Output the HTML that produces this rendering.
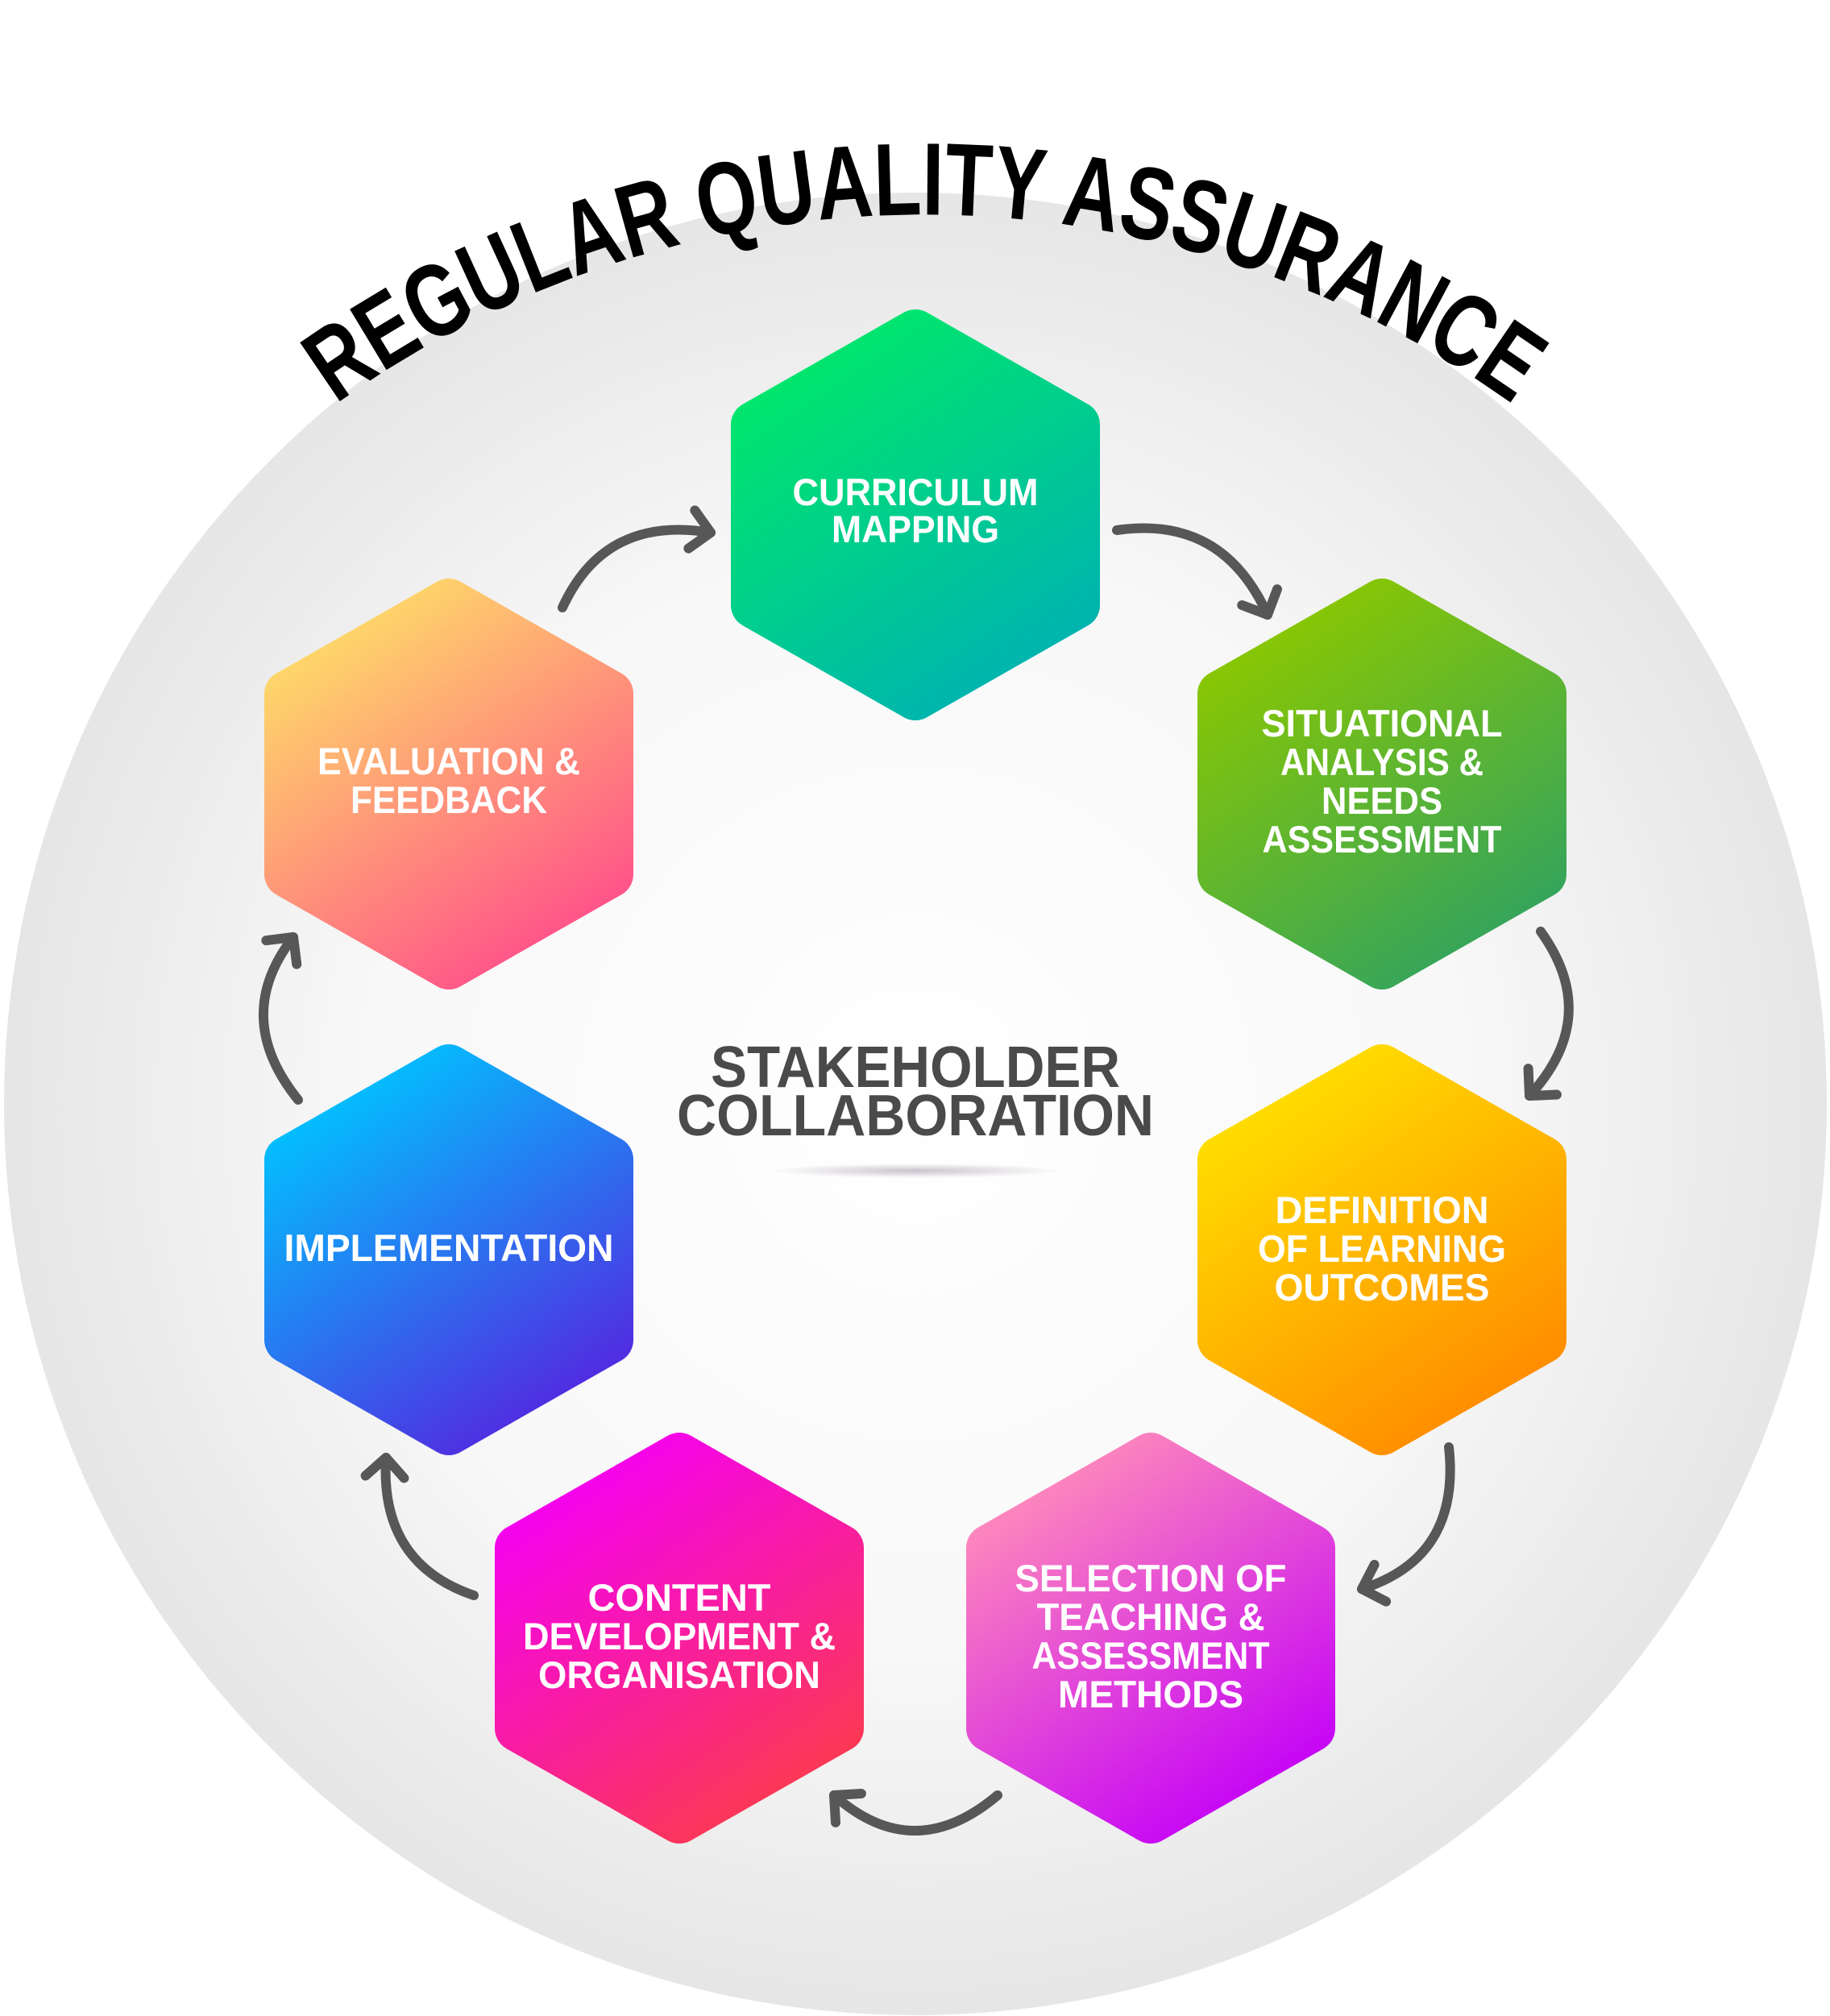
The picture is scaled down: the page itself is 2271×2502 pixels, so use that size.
<!DOCTYPE html>
<html><head><meta charset="utf-8"><style>html,body{margin:0;padding:0;background:#fff}svg{display:block}</style></head>
<body>
<svg width="2271" height="2502" viewBox="0 0 2271 2502" xmlns="http://www.w3.org/2000/svg" font-family="Liberation Sans, sans-serif" font-weight="bold">
<defs>
<radialGradient id="bg" cx="50%" cy="50%" r="50%">
<stop offset="0" stop-color="#ffffff"/><stop offset="0.6" stop-color="#f8f8f8"/><stop offset="1" stop-color="#e6e6e6"/>
</radialGradient>
<linearGradient id="g1" x1="0.2" y1="0" x2="0.8" y2="1"><stop offset="0" stop-color="#00e86a"/><stop offset="1" stop-color="#00b2b2"/></linearGradient>
<linearGradient id="g2" x1="0.2" y1="0" x2="0.8" y2="1"><stop offset="0" stop-color="#8cc800"/><stop offset="1" stop-color="#32a35e"/></linearGradient>
<linearGradient id="g3" x1="0.2" y1="0" x2="0.8" y2="1"><stop offset="0" stop-color="#ffe000"/><stop offset="1" stop-color="#ff8a00"/></linearGradient>
<linearGradient id="g4" x1="0.2" y1="0" x2="0.8" y2="1"><stop offset="0" stop-color="#ff8cba"/><stop offset="1" stop-color="#c400f8"/></linearGradient>
<linearGradient id="g5" x1="0.2" y1="0" x2="0.8" y2="1"><stop offset="0" stop-color="#f400f4"/><stop offset="1" stop-color="#fc3a4e"/></linearGradient>
<linearGradient id="g6" x1="0.2" y1="0" x2="0.8" y2="1"><stop offset="0" stop-color="#00c4ff"/><stop offset="1" stop-color="#5426e0"/></linearGradient>
<linearGradient id="g7" x1="0.2" y1="0" x2="0.8" y2="1"><stop offset="0" stop-color="#fedc68"/><stop offset="1" stop-color="#ff4f8a"/></linearGradient>
<radialGradient id="sh" cx="50%" cy="50%" r="50%"><stop offset="0" stop-color="#8a7a90" stop-opacity="0.45"/><stop offset="1" stop-color="#8a7a90" stop-opacity="0"/></radialGradient>
<marker id="ah" markerUnits="userSpaceOnUse" markerWidth="60" markerHeight="60" refX="30" refY="30" orient="auto" viewBox="0 0 60 60">
<polyline points="6,6 30,30 6,54" fill="none" stroke="#575757" stroke-width="12" stroke-linecap="round" stroke-linejoin="round"/>
</marker>
<path id="arc" d="M -103 1516 A 1250 1250 0 0 1 2397 1516"/>
<polygon id="hx" points="0,-226 200,-112 200,112 0,226 -200,112 -200,-112"/>
</defs>

<circle cx="1136" cy="1370" r="1131" fill="url(#bg)"/>

<text font-size="128" fill="#000"><textPath href="#arc" startOffset="50%" text-anchor="middle" textLength="1560" lengthAdjust="spacingAndGlyphs">REGULAR QUALITY ASSURANCE</textPath></text>

<g transform="translate(1136,639)"><use href="#hx" fill="url(#g1)" stroke="url(#g1)" stroke-width="58" stroke-linejoin="round"/></g>
<g transform="translate(1715,973)"><use href="#hx" fill="url(#g2)" stroke="url(#g2)" stroke-width="58" stroke-linejoin="round"/></g>
<g transform="translate(1715,1551)"><use href="#hx" fill="url(#g3)" stroke="url(#g3)" stroke-width="58" stroke-linejoin="round"/></g>
<g transform="translate(1428,2033)"><use href="#hx" fill="url(#g4)" stroke="url(#g4)" stroke-width="58" stroke-linejoin="round"/></g>
<g transform="translate(843,2033)"><use href="#hx" fill="url(#g5)" stroke="url(#g5)" stroke-width="58" stroke-linejoin="round"/></g>
<g transform="translate(557,1551)"><use href="#hx" fill="url(#g6)" stroke="url(#g6)" stroke-width="58" stroke-linejoin="round"/></g>
<g transform="translate(557,973)"><use href="#hx" fill="url(#g7)" stroke="url(#g7)" stroke-width="58" stroke-linejoin="round"/></g>

<g fill="#fff" font-size="47" text-anchor="middle">
<text x="1136" y="627" textLength="305" lengthAdjust="spacingAndGlyphs">CURRICULUM</text>
<text x="1136" y="673" textLength="208" lengthAdjust="spacingAndGlyphs">MAPPING</text>

<text x="1715" y="914" textLength="299" lengthAdjust="spacingAndGlyphs">SITUATIONAL</text>
<text x="1715" y="962" textLength="252" lengthAdjust="spacingAndGlyphs">ANALYSIS &amp;</text>
<text x="1715" y="1010" textLength="150" lengthAdjust="spacingAndGlyphs">NEEDS</text>
<text x="1715" y="1058" textLength="297" lengthAdjust="spacingAndGlyphs">ASSESSMENT</text>

<text x="1715" y="1518" textLength="265" lengthAdjust="spacingAndGlyphs">DEFINITION</text>
<text x="1715" y="1566" textLength="308" lengthAdjust="spacingAndGlyphs">OF LEARNING</text>
<text x="1715" y="1614" textLength="267" lengthAdjust="spacingAndGlyphs">OUTCOMES</text>

<text x="1428" y="1975" textLength="337" lengthAdjust="spacingAndGlyphs">SELECTION OF</text>
<text x="1428" y="2023" textLength="283" lengthAdjust="spacingAndGlyphs">TEACHING &amp;</text>
<text x="1428" y="2071" textLength="295" lengthAdjust="spacingAndGlyphs">ASSESSMENT</text>
<text x="1428" y="2119" textLength="230" lengthAdjust="spacingAndGlyphs">METHODS</text>

<text x="843" y="1999" textLength="227" lengthAdjust="spacingAndGlyphs">CONTENT</text>
<text x="843" y="2047" textLength="388" lengthAdjust="spacingAndGlyphs">DEVELOPMENT &amp;</text>
<text x="843" y="2095" textLength="350" lengthAdjust="spacingAndGlyphs">ORGANISATION</text>

<text x="557" y="1565" textLength="409" lengthAdjust="spacingAndGlyphs">IMPLEMENTATION</text>

<text x="557" y="961" textLength="326" lengthAdjust="spacingAndGlyphs">EVALUATION &amp;</text>
<text x="557" y="1009" textLength="244" lengthAdjust="spacingAndGlyphs">FEEDBACK</text>
</g>

<g fill="#4a4a4a" font-size="72" text-anchor="middle">
<text x="1136" y="1349" textLength="508" lengthAdjust="spacingAndGlyphs">STAKEHOLDER</text>
<text x="1136" y="1409" textLength="592" lengthAdjust="spacingAndGlyphs">COLLABORATION</text>
</g>
<ellipse cx="1136" cy="1453" rx="180" ry="9" fill="url(#sh)"/>

<g fill="none" stroke="#575757" stroke-width="12" stroke-linecap="round" marker-end="url(#ah)">
<path d="M 698 754 Q 751 639 882 661"/>
<path d="M 1386 658 Q 1517 639 1573 763"/>
<path d="M 1912 1156 Q 1988 1262 1898 1360"/>
<path d="M 1798 1796 Q 1813 1933 1690 1972"/>
<path d="M 1238 2228 Q 1134 2316 1035 2228"/>
<path d="M 588 1980 Q 471 1940 479 1809"/>
<path d="M 370 1365 Q 287 1262 364 1163"/>
</g>
</svg>
</body></html>
